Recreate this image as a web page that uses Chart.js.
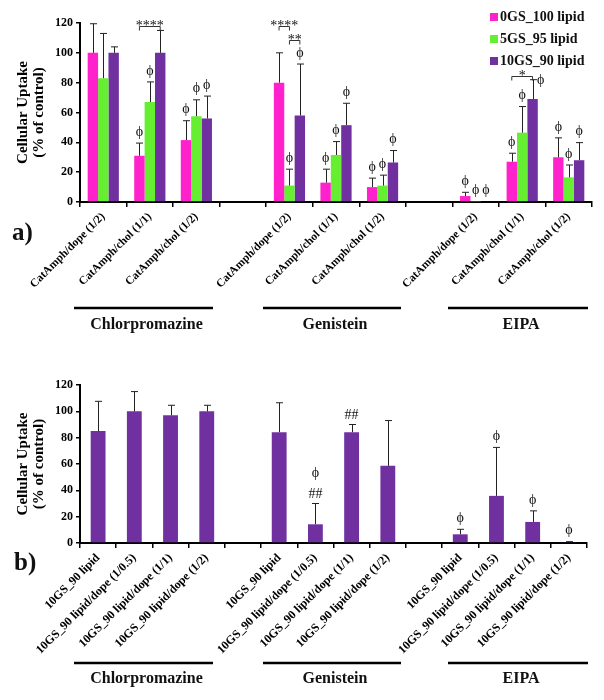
<!DOCTYPE html>
<html>
<head>
<meta charset="utf-8">
<script src="https://cdn.jsdelivr.net/npm/chart.js@4.4.0/dist/chart.umd.min.js"></script>
<style>
  body { margin: 0; background: #fff; }
  #wrap { position: relative; width: 604px; height: 700px; }
  canvas { position: absolute; left: 0; }
</style>
</head>
<body>
<div id="wrap">
  <canvas id="chartA" width="604" height="350" style="top:0"></canvas>
  <canvas id="chartB" width="604" height="350" style="top:350px"></canvas>
</div>
<script>
// ---- data, panel a ----
const categoriesA = [
  'CatAmph/dope (1/2)', 'CatAmph/chol (1/1)', 'CatAmph/chol (1/2)', '',
  'CatAmph/dope (1/2)', 'CatAmph/chol (1/1)', 'CatAmph/chol (1/2)', '',
  'CatAmph/dope (1/2)', 'CatAmph/chol (1/1)', 'CatAmph/chol (1/2)'
];
const seriesA = ['0GS_100 lipid', '5GS_95 lipid', '10GS_90 lipid'];
const uptakeA_0GS  = [100, 31, 41.5, null, 80, 13, 10, null, 4, 27, 30];
const uptakeA_5GS  = [83, 67, 57.5, null, 11, 31.5, 11, null, 0.3, 46.5, 16.5];
const uptakeA_10GS = [100, 100, 56, null, 58, 51.5, 26.5, null, 0.5, 69, 28];
const sdA_0GS  = [19.5, 8.5, 13, null, 20, 9, 6, null, 2.5, 5.7, 13];
const sdA_5GS  = [30, 13.5, 11, null, 11, 9, 7, null, 0, 17.5, 8.3];
const sdA_10GS = [4, 15, 15, null, 34.5, 14.7, 8, null, 0, 13, 11.8];
// 1 = phi above the bar, 2 = phi beside the cap
const phiA_0GS  = [0, 1, 1, 0, 0, 1, 1, 0, 1, 1, 1];
const phiA_5GS  = [0, 1, 1, 0, 1, 1, 1, 0, 1, 1, 1];
const phiA_10GS = [0, 0, 1, 0, 1, 1, 1, 0, 1, 2, 1];
const sigA = [
  { cat: 1, from: 0, to: 2, label: '****', level: 118 },
  { cat: 4, from: 0, to: 1, label: '****', level: 118 },
  { cat: 4, from: 1, to: 2, label: '**', level: 108.5 },
  { cat: 9, from: 0, to: 2, label: '*', level: 84.5 }
];

// ---- data, panel b ----
const categoriesB = [
  '10GS_90 lipid', '10GS_90 lipid/dope (1/0.5)', '10GS_90 lipid/dope (1/1)', '10GS_90 lipid/dope (1/2)', '',
  '10GS_90 lipid', '10GS_90 lipid/dope (1/0.5)', '10GS_90 lipid/dope (1/1)', '10GS_90 lipid/dope (1/2)', '',
  '10GS_90 lipid', '10GS_90 lipid/dope (1/0.5)', '10GS_90 lipid/dope (1/1)', '10GS_90 lipid/dope (1/2)'
];
const uptakeB = [85, 100, 97, 100, null, 84.2, 14.2, 84.2, 58.6, null, 6.6, 35.8, 16, 0.5];
const sdB     = [22.6, 15, 7.6, 4.6, null, 22.3, 15.8, 5.8, 34.4, null, 3.8, 36.8, 8.4, 0.5];
const phiB    = [0, 0, 0, 0, 0, 0, 1, 0, 0, 0, 1, 1, 1, 1];
const hashB   = [0, 0, 0, 0, 0, 0, 1, 1, 0, 0, 0, 0, 0, 0];

const groups = ['Chlorpromazine', 'Genistein', 'EIPA'];
const groupSpans = [[74, 213], [263, 401], [448, 588]];

const colors = ['#FF22CC', '#66EE33', '#7030A0'];
const SERIF = '"Liberation Serif", "Times New Roman", serif';
const PHI = '\u03D5';

function text(ctx, str, x, y, font, align, baseline) {
  ctx.font = font;
  ctx.fillStyle = '#111';
  ctx.textAlign = align || 'center';
  ctx.textBaseline = baseline || 'middle';
  ctx.fillText(str, x, y);
}

function errorBar(ctx, bar, yScale, v, sd) {
  const top = yScale.getPixelForValue(v + (sd || 0));
  if (sd) {
    const x = Math.round(bar.x) + 0.5;
    ctx.strokeStyle = '#222';
    ctx.lineWidth = 1;
    ctx.beginPath();
    ctx.moveTo(x, bar.y);
    ctx.lineTo(x, top);
    ctx.moveTo(x - 3.5, top);
    ctx.lineTo(x + 3.5, top);
    ctx.stroke();
  }
  return top;
}

function drawGroups(ctx, lineY, labelY) {
  groups.forEach((g, k) => {
    const [x1, x2] = groupSpans[k];
    ctx.strokeStyle = '#000';
    ctx.lineWidth = 2.5;
    ctx.beginPath();
    ctx.moveTo(x1, lineY);
    ctx.lineTo(x2, lineY);
    ctx.stroke();
    text(ctx, g, (x1 + x2) / 2 + 3, labelY, 'bold 16px ' + SERIF);
  });
}

function baseOptions(padRight, padTop, xHeight, tickSize) {
  return {
    responsive: false,
    animation: false,
    devicePixelRatio: 1,
    layout: { padding: { left: 0, right: padRight, top: padTop, bottom: 0 } },
    plugins: { legend: { display: false }, tooltip: { enabled: false } },
    scales: {
      x: {
        grid: { drawOnChartArea: false, drawTicks: true, tickLength: 5, color: '#000', lineWidth: 1.5 },
        border: { display: true, color: '#000', width: 2 },
        ticks: {
          autoSkip: false, minRotation: 45, maxRotation: 45, padding: 3, color: '#000',
          font: { family: SERIF, size: tickSize, weight: 'bold' }
        },
        afterFit: s => { s.height = xHeight; }
      },
      y: {
        min: 0, max: 120,
        ticks: { stepSize: 20, padding: 3, color: '#000', font: { family: SERIF, size: 12, weight: 'bold' } },
        grid: { drawOnChartArea: false, tickLength: 4, color: '#000', lineWidth: 1.5 },
        border: { color: '#000', width: 2 },
        title: {
          display: true, text: ['Cellular Uptake', '(% of control)'], color: '#000',
          font: { family: SERIF, size: 15, weight: 'bold', lineHeight: 1.07 },
          padding: { top: 15, bottom: 0 }
        },
        afterFit: s => { s.width = 80; }
      }
    }
  };
}

// ---- panel a ----
const panelA = {
  id: 'panelA',
  afterDatasetsDraw(chart) {
    const ctx = chart.ctx, y = chart.scales.y;
    const sds = [sdA_0GS, sdA_5GS, sdA_10GS];
    const phis = [phiA_0GS, phiA_5GS, phiA_10GS];
    ctx.save();
    chart.data.datasets.forEach((ds, d) => {
      const meta = chart.getDatasetMeta(d);
      ds.data.forEach((v, i) => {
        if (v == null) return;
        const bar = meta.data[i];
        const top = errorBar(ctx, bar, y, v, sds[d][i]);
        if (phis[d][i] === 1) text(ctx, PHI, bar.x, top - 11, '14px ' + SERIF);
        else if (phis[d][i] === 2) text(ctx, PHI, bar.x + 8, top + 1, '14px ' + SERIF);
      });
    });
    sigA.forEach(s => {
      const x1 = chart.getDatasetMeta(s.from).data[s.cat].x;
      const x2 = chart.getDatasetMeta(s.to).data[s.cat].x;
      const yy = Math.round(y.getPixelForValue(s.level)) + 0.5;
      ctx.strokeStyle = '#333';
      ctx.lineWidth = 1;
      ctx.beginPath();
      ctx.moveTo(x1, yy + 4);
      ctx.lineTo(x1, yy);
      ctx.lineTo(x2, yy);
      ctx.lineTo(x2, yy + 4);
      ctx.stroke();
      text(ctx, s.label, (x1 + x2) / 2, yy + 3, '14px ' + SERIF, 'center', 'alphabetic');
    });
    ctx.restore();
  },
  afterDraw(chart) {
    const ctx = chart.ctx;
    ctx.save();
    seriesA.forEach((name, k) => {
      const cy = 17 + k * 22;
      ctx.fillStyle = colors[k];
      ctx.fillRect(490, cy - 4, 8, 8);
      text(ctx, name, 500, cy, 'bold 14px ' + SERIF, 'left');
    });
    drawGroups(ctx, 308, 325);
    text(ctx, 'a)', 12, 234, 'bold 25px ' + SERIF, 'left');
    ctx.restore();
  }
};

new Chart(document.getElementById('chartA'), {
  type: 'bar',
  data: {
    labels: categoriesA,
    datasets: [uptakeA_0GS, uptakeA_5GS, uptakeA_10GS].map((vals, k) => ({
      label: seriesA[k],
      data: vals,
      backgroundColor: colors[k],
      borderWidth: 0,
      categoryPercentage: 0.67,
      barPercentage: 1.0
    }))
  },
  options: baseOptions(12, 23, 148, 11.5),
  plugins: [panelA]
});

// ---- panel b ----
const panelB = {
  id: 'panelB',
  afterDatasetsDraw(chart) {
    const ctx = chart.ctx, y = chart.scales.y;
    const meta = chart.getDatasetMeta(0);
    ctx.save();
    uptakeB.forEach((v, i) => {
      if (v == null) return;
      const bar = meta.data[i];
      const top = errorBar(ctx, bar, y, v, sdB[i]);
      if (hashB[i]) text(ctx, '##', bar.x, top - 9, '14px ' + SERIF);
      if (phiB[i]) text(ctx, PHI, bar.x, top - (hashB[i] ? 30 : 11), '14px ' + SERIF);
    });
    ctx.restore();
  },
  afterDraw(chart) {
    const ctx = chart.ctx;
    ctx.save();
    drawGroups(ctx, 313, 329);
    text(ctx, 'b)', 14, 214, 'bold 25px ' + SERIF, 'left');
    ctx.restore();
  }
};

new Chart(document.getElementById('chartB'), {
  type: 'bar',
  data: {
    labels: categoriesB,
    datasets: [{
      label: seriesA[2],
      data: uptakeB,
      backgroundColor: colors[2],
      borderWidth: 0,
      categoryPercentage: 0.41,
      barPercentage: 1.0
    }]
  },
  options: baseOptions(17, 35, 157, 12),
  plugins: [panelB]
});
</script>
</body>
</html>
